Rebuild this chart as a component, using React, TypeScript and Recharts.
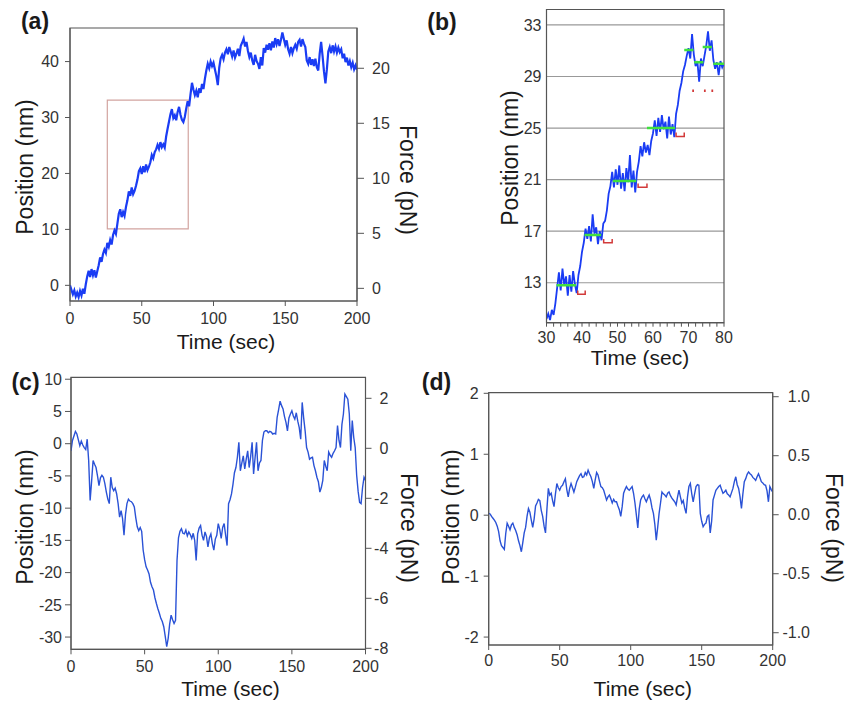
import React from "react";
import { LineChart, Line, XAxis, YAxis, CartesianGrid, ReferenceArea } from "recharts";

const FONT = '"Liberation Sans", Arial, sans-serif';
const AXIS = "#555";
const TICK = { fontSize: 16, fill: "#333", fontFamily: FONT };

// (a) position trace, one sample per second from 0 to 200 s
const posA = [
  0.0, -0.8, -1.6, -0.9, -2.0, -1.3, -2.1, -1.0, -1.8, -0.6,
  -1.5, 0.2, 1.6, 2.6, 1.5, 2.9, 1.8, 2.7, 1.4, 2.5,
  3.6, 5.0, 4.2, 5.6, 6.4, 5.8, 7.6, 6.9, 8.1, 7.3,
  9.0, 9.8, 9.2, 11.0, 12.8, 13.6, 12.2, 13.1, 12.4, 14.0,
  15.2, 16.8, 16.0, 17.5, 16.3, 16.9, 17.8, 18.9, 20.4, 20.9,
  19.9, 21.3, 20.2, 21.6, 20.6, 21.2, 22.0, 23.3, 22.7, 23.8,
  24.3, 25.1, 24.4, 25.6, 24.7, 25.2, 24.6, 26.6, 28.0, 29.3,
  30.6, 31.5, 29.9, 30.4, 29.5, 31.0, 31.9, 30.5, 29.6, 29.2,
  30.1, 31.6, 32.9, 32.0, 34.2, 36.2, 35.0, 34.0, 34.8, 33.6,
  35.2, 34.4, 36.0, 35.1, 36.9, 38.4, 39.6, 38.8, 40.0, 39.2,
  39.8, 38.6, 37.4, 35.8, 38.9, 40.6, 41.2, 40.4, 41.6, 42.2,
  41.3, 42.6, 41.8, 40.9, 42.0, 40.7, 41.4, 42.3, 41.0, 42.8,
  43.4, 44.1, 42.7, 43.5, 41.9, 40.8, 41.6, 40.2, 39.4, 41.2,
  40.1, 39.6, 38.7, 40.8, 39.3, 42.4, 41.6, 43.0, 42.1, 43.3,
  42.0, 43.6, 42.5, 44.2, 43.1, 44.0, 42.8, 43.9, 45.2, 44.1,
  43.0, 43.8, 42.2, 41.4, 42.6, 41.5, 42.4, 43.0, 42.3, 43.5,
  43.9, 42.7, 44.0, 43.2, 42.6, 40.2, 39.6, 40.8, 39.4, 40.4,
  39.2, 40.5, 39.0, 38.4, 41.4, 43.5, 41.0, 38.2, 36.1, 38.6,
  41.8, 42.6, 41.5, 42.9, 41.8, 42.7, 41.6, 42.5, 41.7, 42.2,
  40.6, 41.4, 39.9, 40.7, 39.3, 40.1, 39.0, 39.8, 38.6, 39.3,
  38.5,
];
const zoomBoxTime = [26, 82.4];
const zoomBoxPos = [10.1, 33.1];

// (b) close-up of the boxed region, one sample every 0.5 s from 30 to 80 s
const posB = [
  10.2, 10.6, 10.1, 10.9, 10.5, 11.4, 12.6, 13.8, 12.4, 14.1,
  12.8, 13.5, 12.0, 13.6, 12.3, 13.9, 12.9, 12.2, 13.6, 14.3,
  15.4, 16.1, 17.2, 16.4, 17.4, 16.2, 18.3, 16.8, 17.3, 16.0,
  17.0, 16.3, 17.6, 17.8, 18.6, 19.9, 20.5, 21.6, 20.4, 21.8,
  20.6, 22.1, 20.3, 21.5, 20.1, 21.9, 20.8, 22.9, 20.4, 21.7,
  20.0, 21.6, 22.4, 23.6, 22.8, 23.9, 23.1, 23.7, 22.9, 24.0,
  24.6, 25.6, 24.4, 25.8, 24.7, 26.0, 24.9, 25.5, 24.2, 25.9,
  24.5, 25.3, 24.3, 26.1, 26.8, 27.9, 28.5, 29.4, 29.9, 30.6,
  31.2, 30.4, 32.3, 30.7, 29.8, 30.2, 28.6, 30.4, 29.8, 30.6,
  31.4, 32.5, 31.0, 31.8, 30.3, 29.6, 30.1, 29.1, 30.2, 29.7,
  30.0,
];
const stepStartsB = [32.8, 40.7, 48.7, 58.3, 68.8, 71.6, 74.0, 77.0];
const stepEndsB = [38.3, 45.4, 55.3, 66.2, 71.4, 74.2, 76.6, 80.0];
const stepLevelsB = [12.8, 16.7, 20.9, 25.0, 31.05, 30.1, 31.3, 30.0];
const bracketStartsB = [38.8, 46.1, 55.8, 66.5];
const bracketEndsB = [40.9, 48.5, 58.3, 68.8];
const bracketLevelsB = [12.1, 16.1, 20.4, 24.35];
const dotTimesB = [71.3, 74.6, 76.7];
const dotLevelsB = [27.9, 27.9, 27.9];

// (c) position trace, one sample per second
const posC = [
  -1.1, 0.5, 1.2, 1.9, 1.5, 0.6, -0.3, 0.4, -0.2, -0.6,
  -0.9, 0.7, -2.6, -8.8, -5.8, -2.6, -3.2, -3.7, -5.0, -6.5,
  -5.3, -4.9, -5.2, -6.2, -7.5, -8.6, -9.3, -5.2, -6.8, -7.3,
  -6.9, -7.8, -9.3, -11.4, -10.4, -11.6, -14.2, -11.0, -9.3, -8.6,
  -8.9, -9.0, -9.3, -9.8, -11.5, -12.9, -13.5, -13.0, -13.6, -16.5,
  -18.0, -19.1, -19.6, -20.2, -21.5, -22.2, -22.7, -23.9, -24.8, -25.6,
  -26.3, -27.1, -27.6, -28.4, -29.9, -31.5, -30.2, -28.0, -26.6, -27.3,
  -27.9, -27.4, -18.1, -14.6, -13.6, -13.2, -13.9, -14.0, -13.4, -14.3,
  -13.7, -14.1, -14.7, -13.9, -15.0, -18.1, -14.0, -13.1, -12.7, -14.2,
  -15.0, -13.7, -14.4, -16.0, -14.6, -14.0, -15.5, -16.5, -14.8, -14.2,
  -12.4, -13.3, -14.7, -13.0, -12.4, -14.2, -15.8, -9.3, -8.7, -7.8,
  -6.3, -4.5, -3.7, -2.1, 0.2, -4.2, -3.0, -1.9, -3.9, -2.4,
  -1.1, -3.7, -2.0, 0.2, -4.7, -2.2, 0.2, -4.2, -3.0, -2.6,
  0.5, 1.8, 2.0, 2.0, 1.7, 1.9, 1.8, 1.5, 1.6, 1.5,
  4.1, 5.3, 6.6, 5.9, 5.4, 4.2, 3.3, 2.0, 4.0, 4.6,
  5.1, 4.3, 3.8, 4.8, 3.5, 2.5, 0.7, 6.4, 4.0, 2.0,
  -0.6, -1.3, -2.4, -2.2, -2.1, -3.4, -4.2, -5.2, -5.9, -7.5,
  -6.8, -5.7, -2.6, -3.5, -4.2, -1.3, -1.8, -2.1, -1.5, -1.1,
  -0.6, 2.8, 0.5, -0.6, 3.0, 4.6, 7.7, 7.3, 6.9, 4.6,
  -1.1, 3.6, 1.0, -0.6, -4.9, -7.4, -9.1, -9.3, -6.8, -5.2,
  -5.7,
];

// (d) position trace, one sample per second
const posD = [
  0.03, 0.02, -0.02, -0.05, -0.08, -0.12, -0.18, -0.27, -0.42, -0.5,
  -0.53, -0.56, -0.3, -0.13, -0.18, -0.24, -0.16, -0.13, -0.2, -0.25,
  -0.32, -0.42, -0.5, -0.6, -0.45, -0.29, -0.2, -0.02, 0.11, 0.05,
  -0.08, -0.2, -0.06, 0.15, 0.2, 0.26, 0.24, 0.08, -0.02, -0.18,
  -0.29, 0.1, 0.44, 0.33, 0.36, 0.24, 0.14, 0.35, 0.52, 0.45,
  0.41, 0.47, 0.49, 0.55, 0.6, 0.42, 0.3, 0.44, 0.52, 0.45,
  0.38, 0.46, 0.55, 0.6, 0.65, 0.68, 0.62, 0.63, 0.7, 0.66,
  0.74, 0.68, 0.63, 0.55, 0.44, 0.58, 0.7, 0.66, 0.56, 0.47,
  0.45, 0.41, 0.33, 0.25, 0.3, 0.33, 0.27, 0.2, 0.26, 0.22,
  0.22, 0.15, 0.09, -0.02, 0.14, 0.36, 0.42, 0.47, 0.43, 0.41,
  0.44, 0.47, 0.36, 0.2, 0.0, -0.21, 0.1, 0.25, 0.3, 0.33,
  0.27, 0.22, 0.28, 0.33, 0.25, 0.12, 0.03, -0.15, -0.41, -0.2,
  0.03, 0.2, 0.38, 0.35, 0.33, 0.3, 0.36, 0.38, 0.32, 0.28,
  0.25, 0.22, 0.17, 0.3, 0.41, 0.3, 0.2, 0.24, 0.12, 0.03,
  0.3, 0.47, 0.52, 0.35, 0.22, 0.35, 0.47, 0.5, 0.49, 0.03,
  -0.1, -0.19, -0.15, -0.13, -0.02, 0.0, -0.29, -0.1, 0.25, 0.33,
  0.41, 0.44, 0.47, 0.49, 0.42, 0.36, 0.38, 0.41, 0.35, 0.33,
  0.3, 0.37, 0.44, 0.55, 0.63, 0.5, 0.44, 0.3, 0.11, 0.35,
  0.55, 0.6, 0.67, 0.71, 0.68, 0.66, 0.62, 0.6, 0.57, 0.63,
  0.68, 0.62, 0.55, 0.53, 0.5, 0.49, 0.4, 0.22, 0.47, 0.42,
  0.38,
];

const timeTicks = [0, 50, 100, 150, 200];
const timeTicksB = [30, 32, 34, 36, 38, 40, 42, 44, 46, 48, 50, 52, 54, 56, 58, 60, 62, 64, 66, 68, 70, 72, 74, 76, 78, 80];
const posTicksA = [0, 10, 20, 30, 40];
const forceTicksA = [0, 5, 10, 15, 20];
const posTicksB = [13, 17, 21, 25, 29, 33];
const posTicksC = [-30, -25, -20, -15, -10, -5, 0, 5, 10];
const forceTicksC = [-8, -6, -4, -2, 0, 2];
const posTicksD = [-2, -1, 0, 1, 2];
const forceTicksD = [-1, -0.5, 0, 0.5, 1];

const series = (t0: number, dt: number, values: number[]) => values.map((v, i) => ({ t: t0 + i * dt, v }));

const dataA = series(0, 1, posA);
const dataB = series(30, 0.5, posB);
const dataC = series(0, 1, posC);
const dataD = series(0, 1, posD);

const stepsB = stepStartsB.flatMap((s, i) => [
  { t: s, v: stepLevelsB[i] },
  { t: stepEndsB[i], v: stepLevelsB[i] },
  { t: stepEndsB[i], v: null },
]);
const bracketsB = bracketStartsB.flatMap((s, i) => [
  { t: s, v: bracketLevelsB[i] + 0.3 },
  { t: s, v: bracketLevelsB[i] },
  { t: bracketEndsB[i], v: bracketLevelsB[i] },
  { t: bracketEndsB[i], v: bracketLevelsB[i] + 0.3 },
  { t: bracketEndsB[i], v: null },
]);
const dotsB = dotTimesB.flatMap((t, i) => [
  { t: t - 0.25, v: dotLevelsB[i] },
  { t: t + 0.25, v: dotLevelsB[i] },
  { t: t + 0.25, v: null },
]);

function Title({ x, y, rotate = 0, size = 22, bold = false, children }: any) {
  return (
    <div
      style={{
        position: "absolute",
        left: x,
        top: y,
        transform: `translate(-50%, -50%) rotate(${rotate}deg)`,
        fontSize: size,
        fontWeight: bold ? 700 : 400,
        fontFamily: FONT,
        color: "#1a1a1a",
        whiteSpace: "nowrap",
        lineHeight: 1,
      }}
    >
      {children}
    </div>
  );
}

// right-aligned tick labels for the force axes of (c) and (d)
function RightTick(props: any) {
  const { x, y, payload, shift, digits } = props;
  const label = digits ? Number(payload.value).toFixed(digits) : String(payload.value);
  return (
    <text x={x + shift} y={y} dy="0.36em" textAnchor="end" fontSize={16} fill="#333" fontFamily={FONT}>
      {label}
    </text>
  );
}

export default function App() {
  return (
    <div style={{ position: "absolute", left: 0, top: 0, width: 852, height: 704, background: "#fff", overflow: "hidden" }}>
      {/* (a) */}
      <div style={{ position: "absolute", left: 0, top: 0 }}>
        <LineChart width={420} height={345} data={dataA} margin={{ top: 28, right: 0, bottom: 0, left: 0 }}>
          <XAxis dataKey="t" type="number" domain={[0, 200]} ticks={timeTicks} allowDataOverflow height={44} tickSize={5} tickMargin={7} stroke={AXIS} tick={TICK} />
          <YAxis yAxisId="pos" type="number" domain={[-2.8, 46]} ticks={posTicksA} allowDataOverflow width={70} tickSize={5} tickMargin={6} stroke={AXIS} tick={TICK} />
          <YAxis yAxisId="force" orientation="right" type="number" domain={[-1.15, 23.66]} ticks={forceTicksA} allowDataOverflow width={63} tickSize={7} tickMargin={8} stroke={AXIS} tick={TICK} />
          <ReferenceArea yAxisId="pos" x1={0} x2={200} y1={-2.8} y2={46} fill="none" stroke={AXIS} strokeWidth={1.2} />
          <ReferenceArea yAxisId="pos" x1={zoomBoxTime[0]} x2={zoomBoxTime[1]} y1={zoomBoxPos[0]} y2={zoomBoxPos[1]} fill="none" stroke="#d2a4a0" strokeWidth={1.2} />
          <Line yAxisId="pos" dataKey="v" stroke="#1a3cf4" strokeWidth={2.2} strokeLinejoin="miter" dot={false} isAnimationActive={false} />
        </LineChart>
      </div>

      {/* (b) */}
      <div style={{ position: "absolute", left: 430, top: 0 }}>
        <LineChart width={310} height={350} data={dataB} margin={{ top: 9.5, right: 16, bottom: 0, left: 0 }}>
          <CartesianGrid vertical={false} stroke="#999" strokeWidth={1.2} />
          <XAxis
            dataKey="t"
            type="number"
            domain={[30, 80]}
            ticks={timeTicksB}
            allowDataOverflow
            height={27.3}
            tickSize={4}
            tickMargin={5}
            stroke={AXIS}
            tick={TICK}
            interval={0}
            tickFormatter={(v: number) => (v % 10 === 0 ? String(v) : "")}
          />
          <YAxis type="number" domain={[9.9, 34.2]} ticks={posTicksB} allowDataOverflow width={116.5} tickSize={0} tickMargin={5} stroke={AXIS} tick={TICK} />
          <ReferenceArea x1={30} x2={80} y1={9.9} y2={34.2} fill="none" stroke={AXIS} strokeWidth={1.2} />
          <Line dataKey="v" stroke="#1a3cf4" strokeWidth={1.8} dot={false} isAnimationActive={false} />
          <Line data={stepsB} dataKey="v" stroke="#3fe03f" strokeWidth={2.5} dot={false} isAnimationActive={false} />
          <Line data={bracketsB} dataKey="v" stroke="#d23a3a" strokeWidth={1.5} dot={false} isAnimationActive={false} />
          <Line data={dotsB} dataKey="v" stroke="#d23a3a" strokeWidth={2.4} dot={false} isAnimationActive={false} />
        </LineChart>
      </div>

      {/* (c) */}
      <div style={{ position: "absolute", left: 0, top: 360 }}>
        <LineChart width={420} height={344} data={dataC} margin={{ top: 17.3, right: 0, bottom: 0, left: 0 }}>
          <XAxis dataKey="t" type="number" domain={[0, 200]} ticks={timeTicks} allowDataOverflow height={54.7} tickSize={5} tickMargin={6} stroke={AXIS} tick={TICK} />
          <YAxis yAxisId="pos" type="number" domain={[-31.9, 10.3]} ticks={posTicksC} allowDataOverflow width={71} tickSize={6} tickMargin={3} stroke={AXIS} tick={TICK} />
          <YAxis
            yAxisId="force"
            orientation="right"
            type="number"
            domain={[-8.04, 2.84]}
            ticks={forceTicksC}
            allowDataOverflow
            width={54.5}
            tickSize={6}
            tickMargin={2}
            stroke={AXIS}
            tick={(p: any) => <RightTick {...p} shift={14.8} digits={0} />}
          />
          <ReferenceArea yAxisId="pos" x1={0} x2={200} y1={-31.9} y2={10.3} fill="none" stroke={AXIS} strokeWidth={1.2} />
          <Line yAxisId="pos" dataKey="v" stroke="#2a52d6" strokeWidth={1.4} dot={false} isAnimationActive={false} />
        </LineChart>
      </div>

      {/* (d) */}
      <div style={{ position: "absolute", left: 430, top: 360 }}>
        <LineChart width={422} height={344} data={dataD} margin={{ top: 32.7, right: 0, bottom: 0, left: 0 }}>
          <XAxis dataKey="t" type="number" domain={[0, 200]} ticks={timeTicks} allowDataOverflow height={59} tickSize={5} tickMargin={5} stroke={AXIS} tick={TICK} />
          <YAxis yAxisId="pos" type="number" domain={[-2.13, 2.01]} ticks={posTicksD} allowDataOverflow width={58.7} tickSize={5} tickMargin={5} stroke={AXIS} tick={TICK} />
          <YAxis
            yAxisId="force"
            orientation="right"
            type="number"
            domain={[-1.104, 1.034]}
            ticks={forceTicksD}
            allowDataOverflow
            width={79.3}
            tickSize={6}
            tickMargin={2}
            stroke={AXIS}
            tick={(p: any) => <RightTick {...p} shift={29.3} digits={1} />}
          />
          <ReferenceArea yAxisId="pos" x1={0} x2={200} y1={-2.13} y2={2.01} fill="none" stroke={AXIS} strokeWidth={1.2} />
          <Line yAxisId="pos" dataKey="v" stroke="#2a52d6" strokeWidth={1.4} dot={false} isAnimationActive={false} />
        </LineChart>
      </div>

      <Title x={35} y={21} size={23} bold>(a)</Title>
      <Title x={25} y={167} rotate={-90} size={23}>Position (nm)</Title>
      <Title x={406.7} y={180} rotate={90} size={23}>Force (pN)</Title>
      <Title x={226} y={341} size={21}>Time (sec)</Title>

      <Title x={442} y={22} size={23} bold>(b)</Title>
      <Title x={510} y={158} rotate={-90} size={23}>Position (nm)</Title>
      <Title x={640} y={357} size={21}>Time (sec)</Title>

      <Title x={25.5} y={382} size={23} bold>(c)</Title>
      <Title x={25} y={516.7} rotate={-90} size={23}>Position (nm)</Title>
      <Title x={408} y={528} rotate={90} size={23}>Force (pN)</Title>
      <Title x={230.5} y={688} size={21}>Time (sec)</Title>

      <Title x={436.5} y={382} size={23} bold>(d)</Title>
      <Title x={450.7} y={516.7} rotate={-90} size={23}>Position (nm)</Title>
      <Title x={833} y={527.5} rotate={90} size={23}>Force (pN)</Title>
      <Title x={642.8} y={688} size={21}>Time (sec)</Title>
    </div>
  );
}
